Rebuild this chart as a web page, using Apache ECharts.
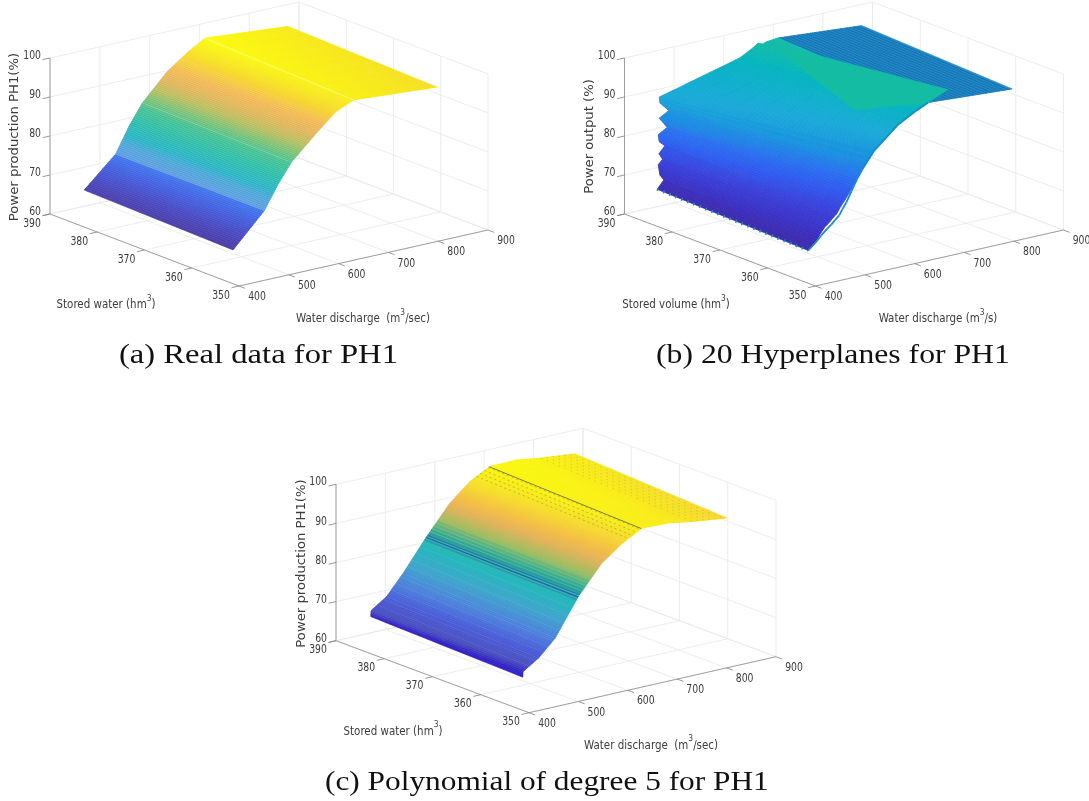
<!DOCTYPE html>
<html><head><meta charset="utf-8">
<style>html,body{margin:0;padding:0;background:#fff}#c{width:1089px;height:801px}</style>
<script src="https://cdn.jsdelivr.net/npm/echarts@6/dist/echarts.min.js"></script>
</head><body><div id="c"></div>
<script>
// ---------- tick labels ----------
const volumeTicks = [390, 380, 370, 360, 350];
const dischargeTicks = [400, 500, 600, 700, 800, 900];
const powerTicks = [60, 70, 80, 90, 100];
const volumeHigh = 387.5, volumeLow = 356;

// ---------- (a) real data: power at the high-volume and low-volume edges ----------
const realQ     = [445, 508, 536, 562, 611, 651, 687, 854];
const realPHigh = [66, 73.4, 80, 85, 91.5, 95.2, 98, 96.2];
const realPLow  = [65.2, 73.5, 79.6, 84.3, 90.2, 94.7, 96.7, 95.2];

// ---------- (c) polynomial ----------
const polyQ     = [446, 446.5, 478, 511.5, 559, 606, 646.5, 687, 741, 788, 859];
const polyPHigh = [66, 67.5, 70.2, 75.2, 83.2, 90.4, 94.8, 97.5, 97.6, 96.7, 95.8];
const polyPLow  = [65, 66.4, 69, 73.1, 82.5, 89.6, 93.4, 96.2, 96, 95, 93.9];
const polyDarkBandQ = [555, 558, 561, 564, 568, 572, 576, 580];
const polyDarkBandAlpha = [0.35, 0.8, 0.6, 0.5, 0.4, 0.3, 0.2, 0.12];
const polyDenseStippleQ = [660, 668, 676, 684];
const polySparseStippleQ = [790, 802, 814, 826, 838, 850];
const polyCreaseQ = [686];

// ---------- (b) 20 hyperplanes: rows of the piecewise surface ----------
const hyperLeftQ  = [441.7, 455.2, 447.2, 443.7, 452.6, 445.2, 457.3, 445.8, 443.7, 461.9, 445.8, 465.3, 447.2, 445.8, 608.5, 634.7, 644.7, 654.8, 662.9, 685];
const hyperLeftP  = [66.3, 68.3, 69.8, 72.5, 73.7, 75.3, 77, 78.4, 80.2, 81.6, 84.4, 85.8, 88.3, 89.8, 95.2, 97, 97.9, 97.4, 97.8, 98.1];
const hyperRightQ = [443.1, 459.3, 467, 477, 485, 493, 501, 507, 516, 528, 541.9, 552, 562.1, 576.2, 624.6, 660.9, 669, 675, 681, 685];
const hyperRightP = [65.1, 66.9, 68.6, 70.2, 71, 72, 72.9, 74.2, 75.7, 77.9, 80.7, 82.7, 84.5, 86.9, 92.2, 94.7, 95.2, 95.7, 96, 96.1];
const hyperEdgeQ  = [443.1, 459.3, 469.4, 481.4, 489.5, 497.6, 505.6, 511.7, 519.8, 529.8, 541.9, 552, 562.1, 576.2, 624.6, 660.9, 685];
const hyperEdgeP  = [65.1, 66.9, 68.2, 69.6, 70.4, 71.4, 72.3, 73.6, 75.2, 77.7, 80.7, 82.7, 84.5, 86.9, 92.2, 94.7, 96.1];
const hyperTopQ      = [685, 854.4];
const hyperTopPHigh  = [98.1, 96.4];
const hyperTopPLow   = [96.1, 94.7];
const hyperWedgeQ = [661.9, 762, 685, 568.9];
const hyperWedgeV = [387.4, 359.9, 356, 359.3];
const hyperWedgeP = [97.8, 95.4, 96.1, 96];

// ---------- captions and axis names ----------
const captionTexts = ['(a) Real data for PH1', '(b) 20 Hyperplanes for PH1', '(c) Polynomial of degree 5 for PH1'];
const powerNameReal = 'Power production PH1(%)', powerNameHyper = 'Power output (%)';

// ---------- colour maps ----------
const realStopsP = [65, 68, 71, 73.4, 73.6, 76, 78, 81, 84, 86, 88, 90, 92, 94, 96, 98];
const realStopsC = ['#4a3aa0','#4a48c0','#4460e0','#4078ee','#5a9ade','#48a4d8','#22b2c4','#28bca8','#40c090','#78c070','#b8bc5a','#e0b455','#f2b650','#f6cf30','#f7e81a','#fbfb0c'];
const polyStopsP = [65, 66.3, 67.5, 70, 73, 77, 81, 83.5, 85, 87, 90, 92, 94, 96, 98];
const polyStopsC = ['#2f20c8','#3424c4','#4a50c0','#4a5cd8','#4c80dc','#3ea4cc','#22b6bc','#2cb8a8','#58c088','#a0bc60','#e6b258','#f4c040','#f6d830','#f8ec18','#fafa0c'];
const hyperStopsP = [65, 69, 73, 78, 81, 85, 90, 95, 98];
const hyperStopsC = ['#3d2aa6','#3b30c4','#3a3fd8','#2f5cf0','#2a70f0','#1a90e0','#18a8d8','#04b4c0','#10bca8'];

// ---------- panel layout ----------
const panels = {
  a:{o:[50,214], dV:[189,72], dQ:[249,-56], dP:[0,-156]},
  b:{o:[624.5,214], dV:[191,72], dQ:[248,-56], dP:[0,-156]},
  c:{o:[336,640.7], dV:[193,72], dQ:[247,-56], dP:[0,-156.4]}
};
function proj(pn, V, Q, P){
  const t=(390-V)/40, u=(Q-400)/500, w=(P-60)/40;
  return [pn.o[0]+t*pn.dV[0]+u*pn.dQ[0]+w*pn.dP[0], pn.o[1]+t*pn.dV[1]+u*pn.dQ[1]+w*pn.dP[1]];
}
function hexRgb(h){return [parseInt(h.slice(1,3),16),parseInt(h.slice(3,5),16),parseInt(h.slice(5,7),16)];}
function colourOf(stops,P){
  const S=stops[0],C=stops[1];
  if(P<=S[0])return C[0];
  for(let i=1;i<S.length;i++) if(P<=S[i]){
    const f=(P-S[i-1])/(S[i]-S[i-1]),a=hexRgb(C[i-1]),b=hexRgb(C[i]);
    return 'rgb('+a.map((x,k)=>Math.round(x+(b[k]-x)*f)).join(',')+')';
  }
  return C[C.length-1];
}
const lerp=(a,b,t)=>a+(b-a)*t;

// Surface series: each data row spans one read interval, shaded like MATLAB's interpolated surface.
function surfaceSeries(pn, leftQ, leftP, rightQ, rightP, opt){
  const rows=[];
  for(let i=0;i<leftQ.length-1;i++) rows.push([leftQ[i],leftP[i],rightQ[i],rightP[i],leftQ[i+1],leftP[i+1],rightQ[i+1],rightP[i+1]]);
  return {type:'custom',coordinateSystem:'cartesian2d',silent:true,z:opt.z||3,clip:false,animation:false,data:rows,
    renderItem(params,api){
      const v=[0,1,2,3,4,5,6,7].map(i=>api.value(i));
      const children=[], nV=opt.cells||8;
      const pt=(t,u)=>{
        const qL=lerp(v[0],v[4],t),pL=lerp(v[1],v[5],t),qR=lerp(v[2],v[6],t),pR=lerp(v[3],v[7],t);
        const Q=lerp(qL,qR,u),P=lerp(pL,pR,u),V=lerp(volumeHigh,volumeLow,u);
        return {xy:api.coord(proj(pn,V,Q,P)),Q,P};
      };
      const a0=pt(0,0).xy,a1=pt(1,0).xy;
      const span=Math.hypot(a1[0]-a0[0],a1[1]-a0[1]);
      const nS=Math.max(opt.minStrips||1,Math.round(span/(opt.spacing||2)));
      for(let s=0;s<nS;s++){
        const t0=s/nS,t1=(s+1)/nS;
        for(let k=0;k<nV;k++){
          const u0=k/nV,u1=(k+1)/nV;
          const m=pt((t0+t1)/2,(u0+u1)/2);
          const fill=opt.flat?(s%2?opt.flat[0]:opt.flat[1]):colourOf(opt.stops,m.P);
          children.push({type:'polygon',shape:{points:[pt(t0,u0).xy,pt(t0,u1).xy,pt(t1,u1).xy,pt(t1,u0).xy]},
            style:{fill,stroke:fill,lineWidth:0.7},silent:true});
        }
        if(opt.stripe){
          const q=pt(t0,0.5).Q;
          let al=0;
          opt.stripe.forEach(b=>{if(q>=b[0]&&q<b[1])al=b[2];});
          if(al>0 && s%(opt.stripeEvery||1)===0) children.push({type:'polyline',shape:{points:[pt(t0,0).xy,pt(t0,1).xy]},
            style:{stroke:'rgba(255,255,255,'+al+')',lineWidth:0.7,fill:null},silent:true});
        }
      }
      return {type:'group',children};
    }};
}

// Lines across the volume direction at a given discharge, lying on a surface.
function surfaceP(Qs,Ps,Q){
  for(let i=1;i<Qs.length;i++) if(Q<=Qs[i]) return lerp(Ps[i-1],Ps[i],(Q-Qs[i-1])/(Qs[i]-Qs[i-1]));
  return Ps[Ps.length-1];
}
function crossLines(pn,Qs,PH,PL,list,style,z){
  return {type:'custom',coordinateSystem:'cartesian2d',silent:true,z:z||4,clip:false,animation:false,data:list.map(q=>[q]),
    renderItem(params,api){
      const q=api.value(0);
      const a=api.coord(proj(pn,volumeHigh,q,surfaceP(Qs,PH,q))),b=api.coord(proj(pn,volumeLow,q,surfaceP(Qs,PL,q)));
      return {type:'line',shape:{x1:a[0],y1:a[1],x2:b[0],y2:b[1]},style:Object.assign({fill:null},style),silent:true};
    }};
}

// Box: walls, floor grid, axis lines, ticks.
function boxSeries(pn){
  const rows=[], G=0, A=1, T=2;
  const add=(v1,q1,p1,v2,q2,p2,k)=>rows.push([v1,q1,p1,v2,q2,p2,k]);
  powerTicks.forEach(p=>{add(390,400,p,390,900,p,G);add(390,900,p,350,900,p,G);});
  dischargeTicks.forEach(q=>{add(390,q,60,390,q,100,G);add(390,q,60,350,q,60,G);});
  volumeTicks.forEach(v=>{add(v,900,60,v,900,100,G);add(v,400,60,v,900,60,G);});
  add(390,400,60,390,400,100,A);add(390,400,60,350,400,60,A);add(350,400,60,350,900,60,A);
  powerTicks.forEach(p=>add(390,400,p,390,385,p,T));
  volumeTicks.forEach(v=>add(v,400,60,v,385,60,T));
  dischargeTicks.forEach(q=>add(350,q,60,348.7,q,60,T));
  return {type:'custom',coordinateSystem:'cartesian2d',silent:true,z:1,clip:false,animation:false,data:rows,
    renderItem(params,api){
      const a=api.coord(proj(pn,api.value(0),api.value(1),api.value(2))),b=api.coord(proj(pn,api.value(3),api.value(4),api.value(5)));
      const k=api.value(6);
      return {type:'line',shape:{x1:a[0],y1:a[1],x2:b[0],y2:b[1]},silent:true,
        style:{stroke:k===G?'#e9e9e9':(k===A?'#8c8c8c':'#808080'),lineWidth:0.8,fill:null}};
    }};
}

// Tick labels and axis names.
const TICKFONT='"DejaVu Sans Condensed","DejaVu Sans",sans-serif';
const INK='#3c3c3c';
function plainTextSeries(items){
  return {type:'custom',coordinateSystem:'cartesian2d',silent:true,z:6,clip:false,animation:false,
    data:items.map(i=>[i.x,i.y]),
    renderItem(params,api){
      const it=items[params.dataIndex], c=api.coord([api.value(0),api.value(1)]);
      const el={type:'text',x:c[0],y:c[1],silent:true,rotation:it.rot||0,scaleX:it.sx||1,
        style:{text:it.t,align:it.align||'center',verticalAlign:'middle',fill:it.fill||INK,font:(it.fs||12)+'px '+(it.font||TICKFONT)}};
      if(it.rich){el.style.rich={
        a:{fontSize:it.fs,fontFamily:TICKFONT,fill:INK,lineHeight:18,verticalAlign:'bottom'},
        s:{fontSize:9.5,fontFamily:TICKFONT,fill:INK,lineHeight:18,verticalAlign:'top'}};}
      return el;
    }};
}
function textSeries(pn, names){
  const items=[];
  powerTicks.forEach(p=>{const c=proj(pn,390,400,p);items.push({x:c[0]-9,y:c[1]-2,t:String(p),align:'right',sx:0.86});});
  volumeTicks.forEach(v=>{const c=proj(pn,v,400,60);items.push({x:c[0]-18,y:c[1]+9.5,t:String(v),sx:0.86});});
  dischargeTicks.forEach(q=>{const c=proj(pn,350,q,60);items.push({x:c[0]+18,y:c[1]+11,t:String(q),sx:0.86});});
  return plainTextSeries(items.concat(names));
}
const ROT=Math.PI/2, WIDE='"DejaVu Sans",sans-serif';
const nameCommon={rich:1,fs:13,sx:0.88};

const pa=panels.a, pb=panels.b, pc=panels.c;
const series=[
  boxSeries(pa), boxSeries(pb), boxSeries(pc),
  textSeries(pa,[
    Object.assign({x:106,y:302.5,t:'{a|Stored water (hm}{s|3}{a|)}'},nameCommon),
    Object.assign({x:363,y:316.5,t:'{a|Water discharge  (m}{s|3}{a|/sec)}'},nameCommon),
    {x:15,y:137,t:powerNameReal,rot:ROT,font:WIDE,fs:12,sx:1.1}]),
  textSeries(pb,[
    Object.assign({x:676,y:302.5,t:'{a|Stored volume (hm}{s|3}{a|)}'},nameCommon),
    Object.assign({x:938,y:316.5,t:'{a|Water discharge (m}{s|3}{a|/s)}'},nameCommon),
    {x:590,y:136.5,t:powerNameHyper,rot:ROT,font:WIDE,fs:12,sx:1.1}]),
  textSeries(pc,[
    Object.assign({x:393,y:729,t:'{a|Stored water (hm}{s|3}{a|)}'},nameCommon),
    Object.assign({x:651,y:743,t:'{a|Water discharge  (m}{s|3}{a|/sec)}'},nameCommon),
    {x:302,y:563.5,t:powerNameReal,rot:ROT,font:WIDE,fs:12,sx:1.1}]),
  plainTextSeries([
    {x:119,y:356,t:captionTexts[0],align:'left',fs:28,sx:1.165,font:'"Liberation Serif",serif',fill:'#111'},
    {x:656,y:356,t:captionTexts[1],align:'left',fs:28,sx:1.132,font:'"Liberation Serif",serif',fill:'#111'},
    {x:325,y:783,t:captionTexts[2],align:'left',fs:28,sx:1.119,font:'"Liberation Serif",serif',fill:'#111'}]),

  // (a)
  surfaceSeries(pa,realQ,realPHigh,realQ,realPLow,{stops:[realStopsP,realStopsC],stripe:[[445,508,0.05],[508,640,0.18],[640,690,0.08]]}),
  crossLines(pa,realQ,realPHigh,realPLow,[562],{stroke:'rgba(255,255,255,0.22)',lineWidth:0.8}),
  crossLines(pa,realQ,realPHigh,realPLow,[687],{stroke:'rgba(255,255,255,0.5)',lineWidth:0.8}),

  // (b)
  surfaceSeries(pb,hyperTopQ,hyperTopPHigh,hyperTopQ,hyperTopPLow,{flat:['#0a72b4','#2485c2'],spacing:2.2,cells:1}),
  surfaceSeries(pb,hyperLeftQ,hyperLeftP,hyperRightQ,hyperRightP,{stops:[hyperStopsP,hyperStopsC],spacing:2.5,cells:10}),
  {type:'custom',coordinateSystem:'cartesian2d',silent:true,z:4,clip:false,animation:false,data:hyperWedgeQ.map((q,i)=>[q,hyperWedgeV[i],hyperWedgeP[i]]),
    renderItem(params,api){
      if(params.dataIndex!==0) return null;
      const pts=hyperWedgeQ.map((q,i)=>api.coord(proj(pb,hyperWedgeV[i],q,hyperWedgeP[i])));
      return {type:'polygon',shape:{points:pts},silent:true,style:{fill:'#14bca4',stroke:'#14bca4',lineWidth:0.5}};
    }},
  {type:'custom',coordinateSystem:'cartesian2d',silent:true,z:5,clip:false,animation:false,data:hyperEdgeQ.map((q,i)=>[q,hyperEdgeP[i]]),
    renderItem(params,api){
      const i=params.dataIndex; if(i===hyperEdgeQ.length-1) return null;
      const a=api.coord(proj(pb,volumeLow,api.value(0),api.value(1))),b=api.coord(proj(pb,volumeLow,hyperEdgeQ[i+1],hyperEdgeP[i+1]));
      return {type:'line',shape:{x1:a[0],y1:a[1],x2:b[0],y2:b[1]},silent:true,style:{stroke:'#1a8ac2',lineWidth:1.8,fill:null}};
    }},
  {type:'custom',coordinateSystem:'cartesian2d',silent:true,z:5,clip:false,animation:false,data:[[hyperLeftQ[0],hyperLeftP[0],hyperRightQ[0],hyperRightP[0]]],
    renderItem(params,api){
      const a=api.coord(proj(pb,volumeHigh,api.value(0),api.value(1))),b=api.coord(proj(pb,volumeLow,api.value(2),api.value(3)));
      return {type:'line',shape:{x1:a[0],y1:a[1],x2:b[0],y2:b[1]},silent:true,style:{stroke:'#1a8ac2',lineWidth:3,lineDash:[1.5,5],fill:null}};
    }},

  // (c)
  surfaceSeries(pc,polyQ,polyPHigh,polyQ,polyPLow,{stops:[polyStopsP,polyStopsC],stripe:[[450,560,0.09]],stripeEvery:4})
].concat(
  polyDarkBandQ.map((q,i)=>crossLines(pc,polyQ,polyPHigh,polyPLow,[q],{stroke:'rgba('+(i<3?'40,80,165':'38,125,140')+','+polyDarkBandAlpha[i]+')',lineWidth:i<3?1.4:2.2})),
  [
    crossLines(pc,polyQ,polyPHigh,polyPLow,polyCreaseQ,{stroke:'rgba(60,60,70,0.8)',lineWidth:0.8}),
    crossLines(pc,polyQ,polyPHigh,polyPLow,polyDenseStippleQ,{stroke:'rgba(130,125,70,0.5)',lineWidth:1,lineDash:[2,3]}),
    crossLines(pc,polyQ,polyPHigh,polyPLow,polySparseStippleQ,{stroke:'rgba(150,145,70,0.35)',lineWidth:1,lineDash:[1.5,5]})
  ]);

const chart=echarts.init(document.getElementById('c'),null,{renderer:'canvas',width:1089,height:801});
chart.setOption({
  animation:false,backgroundColor:'#fff',
  grid:{left:0,right:0,top:0,bottom:0},
  xAxis:{type:'value',min:0,max:1089,show:false},
  yAxis:{type:'value',min:0,max:801,inverse:true,show:false},
  series
});
</script></body></html>
